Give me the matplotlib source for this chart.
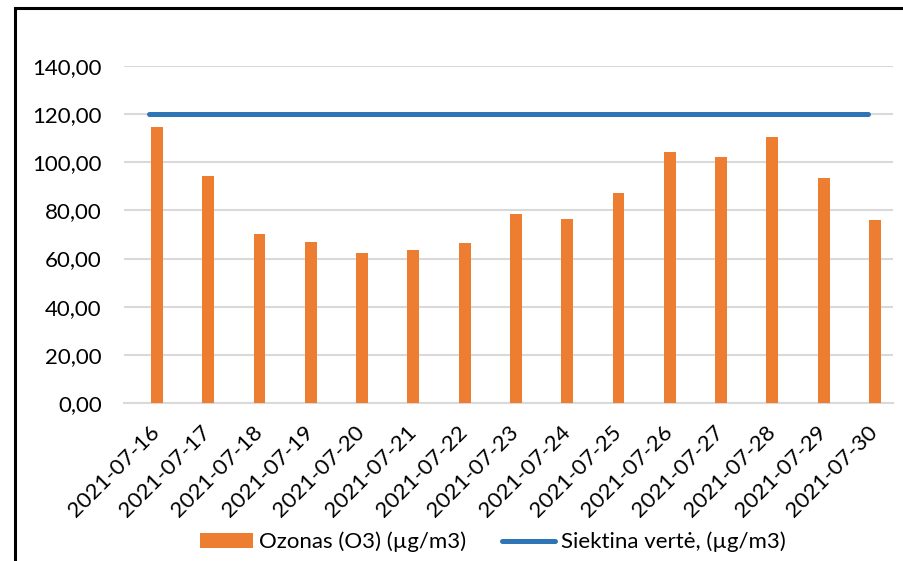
import numpy as np
import matplotlib as mpl
import matplotlib.pyplot as plt
from matplotlib.patches import Rectangle

C_BAR = '#ED7D31'
C_LINE = '#2E75B6'
C_GRID = '#d9d9d9'
C_TEXT = '#000000'

# ── data ─────────────────────────────────────────────────────────────────────
dates = ['2021-07-16', '2021-07-17', '2021-07-18', '2021-07-19', '2021-07-20',
         '2021-07-21', '2021-07-22', '2021-07-23', '2021-07-24', '2021-07-25',
         '2021-07-26', '2021-07-27', '2021-07-28', '2021-07-29', '2021-07-30']
ozone = [114.8, 94.1, 70.0, 66.9, 62.2, 63.5, 66.5, 78.6, 76.6, 87.4,
         104.2, 102.0, 110.6, 93.6, 76.0]
target = [120] * len(dates)
yticks = [0, 20, 40, 60, 80, 100, 120, 140]

# ── style ────────────────────────────────────────────────────────────────────
mpl.rcParams.update({
    'font.family': ['Lato', 'DejaVu Sans'],
    'font.size': 16,
})

fig = plt.figure(figsize=(9.04, 5.61), dpi=100)
ax = fig.add_axes([0.137, 0.2816, 0.851, 0.6008])

x = np.arange(len(dates))
bars = ax.bar(x + 0.145, ozone, width=0.23, color=C_BAR, zorder=3,
              label='Ozonas (O3) (µg/m3)')
line, = ax.plot(x, target, color=C_LINE, lw=3.6, solid_capstyle='round',
                zorder=4, label='Siektina vertė, (µg/m3)')

ax.set_xlim(-0.5, len(dates) - 0.5)
ax.set_ylim(0, 140)
ax.set_yticks(yticks)
ax.set_yticklabels([f'{v:.2f}'.replace('.', ',') for v in yticks])
ax.set_xticks(x)
ax.set_xticklabels(dates, rotation=45, ha='right', rotation_mode='anchor')
ax.tick_params(axis='both', length=0, colors=C_TEXT)
ax.tick_params(axis='y', pad=16)
ax.tick_params(axis='x', pad=14)

ax.grid(axis='y', color=C_GRID, lw=1.5, zorder=0)
ax.set_axisbelow(True)
for s in ['top', 'right', 'left']:
    ax.spines[s].set_visible(False)
ax.spines['bottom'].set_color(C_GRID)
ax.spines['bottom'].set_linewidth(1.5)

fig.legend(handles=[bars, line], loc='center',
           bbox_to_anchor=(0.545, 1 - 542 / 561), ncol=2,
           frameon=False, handlelength=2.4, handleheight=0.6,
           handletextpad=0.25, columnspacing=1.6, fontsize=16)

# outer frame (runs off the right and bottom edges)
fig.patches.append(Rectangle((15 / 904, -0.05), 1.1, 1 - 8 / 561 + 0.05,
                             transform=fig.transFigure, fill=False,
                             edgecolor='black', lw=2.2, zorder=10))

fig.savefig('out.png', dpi=100)
